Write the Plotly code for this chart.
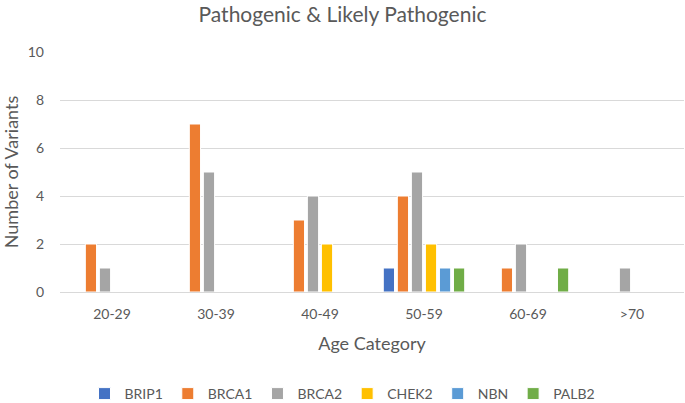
import plotly.graph_objects as go

# Age categories and variant counts per gene (None = no bar)
ages = ["20-29", "30-39", "40-49", "50-59", "60-69", ">70"]
brip1 = [None, None, None, 1, None, None]
brca1 = [2, 7, 3, 4, 1, None]
brca2 = [1, 5, 4, 5, 2, 1]
chek2 = [None, None, 2, 2, None, None]
nbn = [None, None, None, 1, None, None]
palb2 = [None, None, None, 1, 1, None]

series = [
    ("BRIP1", brip1, "#4472C4"),
    ("BRCA1", brca1, "#ED7D31"),
    ("BRCA2", brca2, "#A5A5A5"),
    ("CHEK2", chek2, "#FFC000"),
    ("NBN", nbn, "#5B9BD5"),
    ("PALB2", palb2, "#70AD47"),
]

txt = "#595959"
fig = go.Figure()
for name, vals, col in series:
    fig.add_trace(go.Bar(x=ages, y=vals, name=name,
                         marker=dict(color=col, line=dict(color="white", width=1))))

fig.update_layout(
    width=685, height=403,
    margin=dict(l=60, r=1, t=52, b=111),
    paper_bgcolor="white", plot_bgcolor="white",
    font=dict(family="Lato, Open Sans, sans-serif", color=txt, size=14),
    title=dict(text="Pathogenic & Likely Pathogenic", x=0.5, xref="container",
               xanchor="center", y=1 - 15 / 403, yanchor="middle",
               font=dict(size=21, color=txt)),
    barmode="group", bargap=0.19, bargroupgap=0.2,
    legend=dict(orientation="h", xref="container", x=0.5, xanchor="center",
                yref="container", y=1 - 394 / 403, yanchor="middle",
                font=dict(size=14, color=txt), itemwidth=30),
)
fig.update_xaxes(showline=True, linecolor="#D9D9D9", linewidth=1,
                 ticks="", ticklabelstandoff=9, tickfont=dict(size=14),
                 title=dict(text="Age Category", font=dict(size=18), standoff=16))
fig.update_yaxes(range=[0, 10], dtick=2, showgrid=True, gridcolor="#D9D9D9",
                 gridwidth=1, zeroline=False, ticks="", ticklabelstandoff=15,
                 tickfont=dict(size=14),
                 title=dict(text="Number of Variants", font=dict(size=18), standoff=6))

# drop the default page margin so the figure sits at the window corner
fig.write_html("out.html", config={"displayModeBar": False},
               post_script="document.body.style.margin='0';")
